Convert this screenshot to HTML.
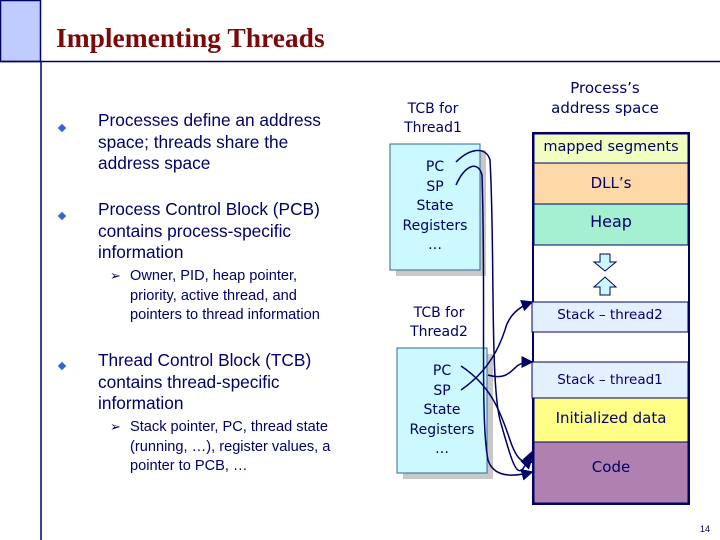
<!DOCTYPE html>
<html><head><meta charset="utf-8"><style>
body{margin:0;width:720px;height:540px;background:#fff;position:relative;overflow:hidden;font-family:"Liberation Sans",sans-serif;color:#000066}
.t{position:absolute;white-space:nowrap}
.b{font-size:17.3px;line-height:21.5px}
.s{font-size:14.6px;line-height:19.5px}
.d{font-family:"DejaVu Sans",sans-serif;font-size:14px;text-align:center;color:#000066}
.bul{position:absolute;width:6px;height:6px;background:#3366cc;transform:rotate(45deg)}
.ar{position:absolute;font-size:13px;color:#000066}
</style></head><body>
<svg width="720" height="540" style="position:absolute;left:0;top:0">
<defs><marker id="a" markerWidth="8" markerHeight="8" refX="7" refY="4" orient="auto"><path d="M0,0 L8,4 L0,8 z" fill="#000066"/></marker></defs>
<rect x="0.5" y="0.5" width="40" height="61" fill="#c0ccff" stroke="#000066" stroke-width="1.5"/>
<line x1="0" y1="61.5" x2="720" y2="61.5" stroke="#000066" stroke-width="1.5"/>
<line x1="41" y1="61" x2="41" y2="540" stroke="#000066" stroke-width="1.5"/>
<rect x="396" y="150" width="90" height="126" fill="#c8c8c8"/>
<rect x="390" y="144" width="90" height="126" fill="#ccf8ff" stroke="#336699"/>
<rect x="403" y="354" width="90" height="125" fill="#c8c8c8"/>
<rect x="397" y="348" width="90" height="125" fill="#ccf8ff" stroke="#336699"/>
<rect x="533" y="133" width="156" height="371" fill="#fff" stroke="#000066" stroke-width="2"/>
<rect x="534" y="134" width="154" height="29" fill="#f0ffc0" stroke="#000066"/>
<rect x="534" y="163" width="154" height="41" fill="#fdd9a8" stroke="#000066"/>
<rect x="534" y="204" width="154" height="41" fill="#a6f0d2" stroke="#000066"/>
<rect x="532" y="302" width="156" height="30" fill="#e2f0ff" stroke="#000066"/>
<rect x="532" y="362" width="156" height="36" fill="#e2f0ff" stroke="#000066"/>
<rect x="534" y="398" width="154" height="44" fill="#ffff88" stroke="#000066"/>
<rect x="534" y="442" width="154" height="61" fill="#b080b0" stroke="#000066"/>
<path d="M600,254 h10 v8 h6 l-11,9 l-11,-9 h6 z" fill="#ccf8ff" stroke="#000066"/>
<path d="M605,277 l11,10 h-6 v8 h-10 v-8 h-6 z" fill="#ccf8ff" stroke="#000066"/>
<g fill="none" stroke="#000066" stroke-width="1.5">
<path d="M456,162 C470,148 486,146 490,160 C495,250 490,380 500,420 C510,455 515,475 522,470 Q528,462 532,452" marker-end="url(#a)"/>
<path d="M456,185 C465,165 478,160 482,175 C486,300 480,420 488,460 Q495,482 532,472" marker-end="url(#a)"/>
<path d="M461,366 C490,385 500,410 510,440 Q520,470 532,458" marker-end="url(#a)"/>
<path d="M461,390 C490,370 500,345 505,330 Q510,310 532,302" marker-end="url(#a)"/>
<path d="M488,375 C505,380 510,372 515,368 Q520,362 532,362" marker-end="url(#a)"/>
</g>
</svg>
<div class="t" style="left:56px;top:22px;font-family:'Liberation Serif',serif;font-weight:bold;font-size:27.5px;color:#7a0a0a">Implementing Threads</div>
<div class="bul" style="left:59px;top:125px"></div>
<div class="t b" style="left:98px;top:110px">Processes define an address<br>space; threads share the<br>address space</div>
<div class="bul" style="left:59px;top:213px"></div>
<div class="t b" style="left:98px;top:199px">Process Control Block (PCB)<br>contains process-specific<br>information</div>
<div class="ar" style="left:110px;top:268px">➢</div>
<div class="t s" style="left:130px;top:267px">Owner, PID, heap pointer,<br>priority, active thread, and<br>pointers to thread information</div>
<div class="bul" style="left:59px;top:363px"></div>
<div class="t b" style="left:98px;top:350px">Thread Control Block (TCB)<br>contains thread-specific<br>information</div>
<div class="ar" style="left:110px;top:419px">➢</div>
<div class="t s" style="left:130px;top:418px">Stack pointer, PC, thread state<br>(running, …), register values, a<br>pointer to PCB, …</div>
<div class="t d" style="left:390px;top:100px;width:86px;line-height:19px">TCB for<br>Thread1</div>
<div class="t d" style="left:530px;top:78px;width:150px;font-size:15px;line-height:20px">Process’s<br>address space</div>
<div class="t d" style="left:390px;top:158px;width:90px;line-height:19.5px">PC<br>SP<br>State<br>Registers<br>…</div>
<div class="t d" style="left:396px;top:304px;width:86px;line-height:19px">TCB for<br>Thread2</div>
<div class="t d" style="left:397px;top:362px;width:90px;line-height:19.5px">PC<br>SP<br>State<br>Registers<br>…</div>
<div class="t d" style="left:534px;top:139px;width:154px;font-size:14.5px">mapped segments</div>
<div class="t d" style="left:534px;top:174px;width:154px;font-size:15px">DLL’s</div>
<div class="t d" style="left:534px;top:212px;width:154px;font-size:16px">Heap</div>
<div class="t d" style="left:532px;top:307px;width:156px;font-size:13.5px">Stack – thread2</div>
<div class="t d" style="left:532px;top:372px;width:156px;font-size:13.5px">Stack – thread1</div>
<div class="t d" style="left:534px;top:409px;width:154px;font-size:15px">Initialized data</div>
<div class="t d" style="left:534px;top:458px;width:154px;font-size:15px">Code</div>
<div class="t" style="left:700px;top:524px;font-size:9px">14</div>
</body></html>
